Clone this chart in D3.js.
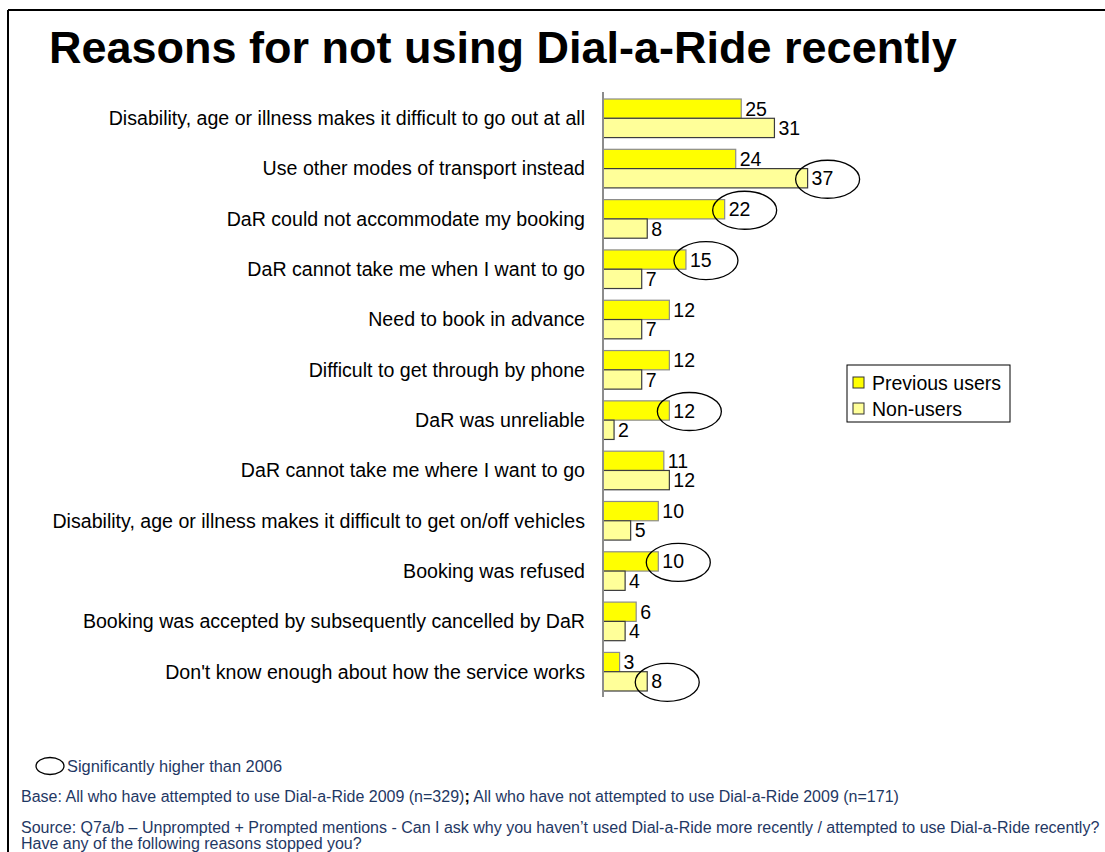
<!DOCTYPE html>
<html>
<head>
<meta charset="utf-8">
<script src="https://cdn.jsdelivr.net/npm/d3@7"></script>
<style>
  body { margin: 0; background: #fff; }
  svg { display: block; font-family: Arial, "Liberation Sans", sans-serif; }
</style>
</head>
<body>
<svg id="chart" width="1105" height="852"></svg>
<script>
// chart data
const categories = [
    "Disability, age or illness makes it difficult to go out at all",
    "Use other modes of transport instead",
    "DaR could not accommodate my booking",
    "DaR cannot take me when I want to go",
    "Need to book in advance",
    "Difficult to get through by phone",
    "DaR was unreliable",
    "DaR cannot take me where I want to go",
    "Disability, age or illness makes it difficult to get on/off vehicles",
    "Booking was refused",
    "Booking was accepted by subsequently cancelled by DaR",
    "Don't know enough about how the service works"
];
const seriesNames = ["Previous users", "Non-users"];
const previousUsers = [25, 24, 22, 15, 12, 12, 12, 11, 10, 10, 6, 3];
const nonUsers = [31, 37, 8, 7, 7, 7, 2, 12, 5, 4, 4, 8];
// significantly higher than 2006: [category index, series index]
const significant = [[1, 1], [2, 0], [3, 0], [6, 0], [9, 0], [11, 1]];

const colors = ["#ffff00", "#ffff99"];
const strokes = ["#8c8c8c", "#3c3c3c"];
const noteColor = "#1f3864";

const svg = d3.select("#chart");

// frame
svg.append("line").attr("x1", 8).attr("y1", 10).attr("x2", 1105).attr("y2", 10)
    .attr("stroke", "#000").attr("stroke-width", 2);
svg.append("line").attr("x1", 8).attr("y1", 10).attr("x2", 8).attr("y2", 852)
    .attr("stroke", "#000").attr("stroke-width", 2);

svg.append("text")
    .attr("x", 49).attr("y", 63)
    .attr("font-size", 45).attr("font-weight", "bold")
    .text("Reasons for not using Dial-a-Ride recently");

const x = d3.scaleLinear().domain([0, 40]).range([603, 603 + 40 * 5.53]);

const y0 = d3.scaleBand()
    .domain(d3.range(categories.length))
    .range([99, 691])
    .paddingInner(0.233)
    .paddingOuter(0);

const y1 = d3.scaleBand()
    .domain([0, 1])
    .range([0, y0.bandwidth()]);

const rows = categories.map((c, i) => ({
    cat: c, i: i, values: [previousUsers[i], nonUsers[i]]
}));

const groups = svg.append("g").selectAll("g")
    .data(rows)
    .enter().append("g")
    .attr("transform", d => `translate(0,${y0(d.i)})`);

groups.selectAll("rect")
    .data(d => d.values.map((v, s) => ({ v: v, s: s })))
    .enter().append("rect")
    .attr("x", x(0))
    .attr("y", d => y1(d.s))
    .attr("width", d => x(d.v) - x(0))
    .attr("height", y1.bandwidth())
    .attr("fill", d => colors[d.s])
    .attr("stroke", d => strokes[d.s])
    .attr("stroke-width", 1.2);

groups.selectAll("text.val")
    .data(d => d.values.map((v, s) => ({ v: v, s: s })))
    .enter().append("text")
    .attr("class", "val")
    .attr("x", d => x(d.v) + 4)
    .attr("y", d => y1(d.s) + y1.bandwidth() / 2)
    .attr("dy", "0.36em")
    .attr("font-size", 19.5)
    .text(d => d.v);

groups.append("text")
    .attr("x", x(0) - 18)
    .attr("y", y0.bandwidth() / 2)
    .attr("dy", "0.35em")
    .attr("text-anchor", "end")
    .attr("font-size", 19.6)
    .text(d => d.cat);

// axis line
svg.append("line")
    .attr("x1", x(0)).attr("x2", x(0))
    .attr("y1", 92).attr("y2", 697)
    .attr("stroke", "#8c8c8c").attr("stroke-width", 2);

// significance ellipses
svg.append("g").selectAll("ellipse")
    .data(significant)
    .enter().append("ellipse")
    .attr("cx", d => x([previousUsers, nonUsers][d[1]][d[0]]) + 20)
    .attr("cy", d => y0(d[0]) + y1(d[1]) + y1.bandwidth() / 2 + 1)
    .attr("rx", 32).attr("ry", 19)
    .attr("fill", "none").attr("stroke", "#000").attr("stroke-width", 1.3);

// legend
const legend = svg.append("g");
legend.append("rect")
    .attr("x", 847).attr("y", 365).attr("width", 163).attr("height", 57)
    .attr("fill", "#fff").attr("stroke", "#000").attr("stroke-width", 1);
seriesNames.forEach((name, i) => {
    legend.append("rect")
        .attr("x", 853).attr("y", 377 + i * 26).attr("width", 11).attr("height", 11)
        .attr("fill", colors[i]).attr("stroke", "#333").attr("stroke-width", 1);
    legend.append("text")
        .attr("x", 872).attr("y", 383 + i * 26).attr("dy", "0.36em")
        .attr("font-size", 19.5)
        .text(name);
});

// notes
svg.append("ellipse")
    .attr("cx", 50).attr("cy", 766).attr("rx", 14).attr("ry", 8.5)
    .attr("fill", "none").attr("stroke", "#000").attr("stroke-width", 1.3);
svg.append("text")
    .attr("x", 67).attr("y", 772).attr("font-size", 16.4).attr("fill", noteColor)
    .text("Significantly higher than 2006");

const base = svg.append("text")
    .attr("x", 21).attr("y", 802).attr("font-size", 16).attr("fill", noteColor);
base.append("tspan").text("Base: All who have attempted to use Dial-a-Ride 2009 (n=329)");
base.append("tspan").attr("font-weight", "bold").attr("fill", "#000").text(";");
base.append("tspan").text(" All who have not attempted to use Dial-a-Ride 2009 (n=171)");

svg.append("text")
    .attr("x", 21).attr("y", 833).attr("font-size", 16).attr("fill", noteColor)
    .text("Source: Q7a/b \u2013 Unprompted + Prompted mentions - Can I ask why you haven\u2019t used Dial-a-Ride more recently / attempted to use Dial-a-Ride recently?");
svg.append("text")
    .attr("x", 21).attr("y", 849).attr("font-size", 16).attr("fill", noteColor)
    .text("Have any of the following reasons stopped you?");
</script>
</body>
</html>
